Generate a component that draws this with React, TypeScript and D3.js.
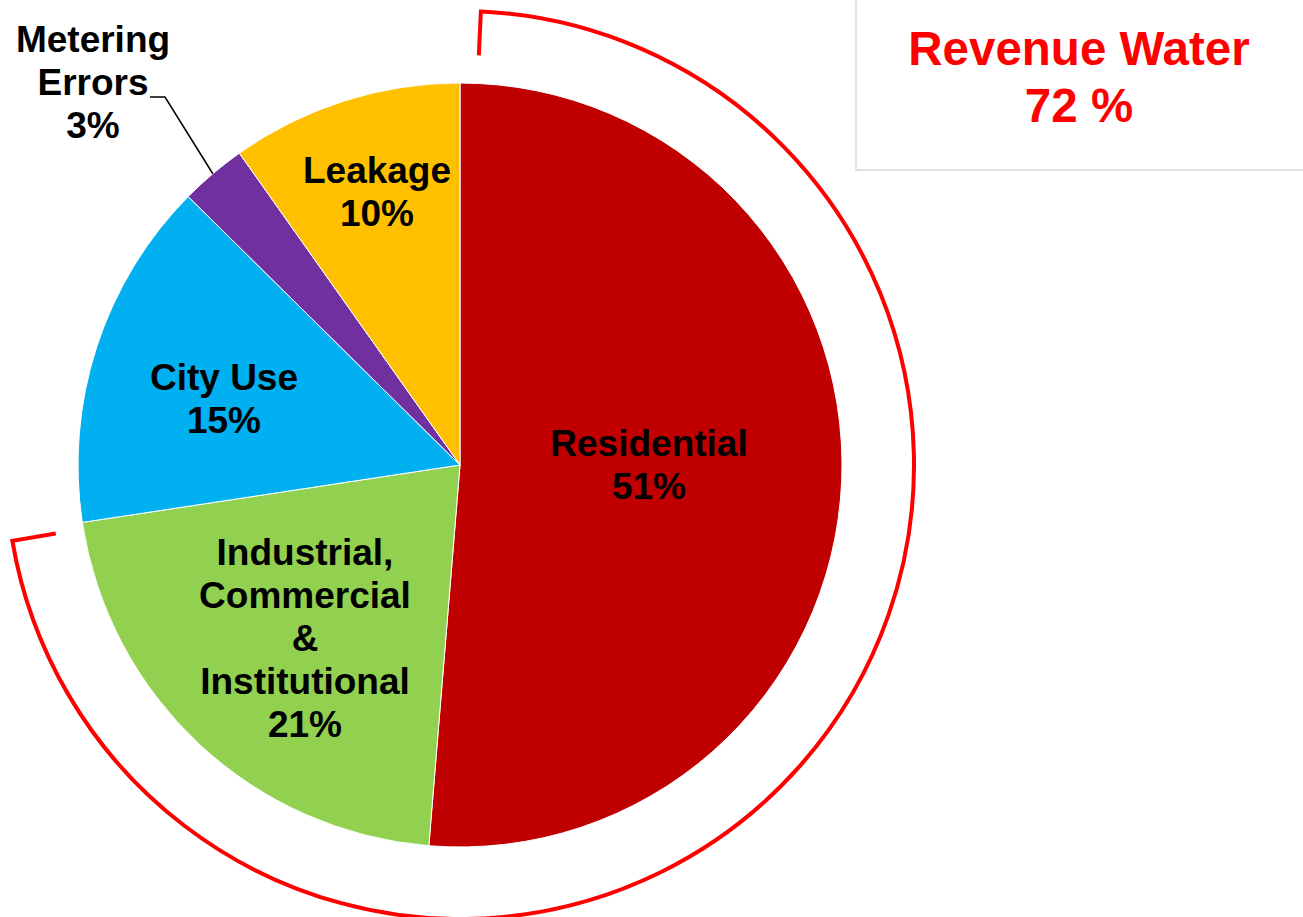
import React from "react";
import * as d3 from "d3";

const categories = ["Residential", "Industrial, Commercial & Institutional", "City Use", "Metering Errors", "Leakage"];
const values = [51.3, 21.3, 14.8, 2.8, 9.8];
const labels = ["51%", "21%", "15%", "3%", "10%"];
const colors = ["#C00000", "#92D050", "#00B0F0", "#7030A0", "#FFC000"];
const revenueTitle = "Revenue Water";
const revenueValue = "72 %";

const W = 1303, H = 917;
const cx = 460, cy = 465, R = 382;
const arcR = 454, tickR = 410;
const FONT = "'Liberation Sans', Arial, Helvetica, sans-serif";

// label layouts: lines and anchor (centre x, first baseline y)
const labelLines: string[][] = [
  ["Residential"],
  ["Industrial,", "Commercial", "&", "Institutional"],
  ["City Use"],
  ["Metering", "Errors"],
  ["Leakage"],
];
const labelPos: [number, number][] = [
  [649, 456],
  [305, 565],
  [224, 390],
  [93, 52],
  [377, 183],
];
const LH = 43;

export default function App() {
  const pie = d3.pie<number>().sort(null).value((d) => d).startAngle(0).endAngle(2 * Math.PI);
  const arcs = pie(values);
  const arcGen = d3.arc<d3.PieArcDatum<number>>().innerRadius(0).outerRadius(R);

  // revenue water bracket: residential + industrial
  const a0 = arcs[0].startAngle + 0.046;
  const a1 = arcs[1].endAngle - 0.017;
  const pt = (a: number, r: number): [number, number] => [cx + r * Math.sin(a), cy - r * Math.cos(a)];
  const p = d3.path();
  const s0 = pt(a0, tickR);
  const s1 = pt(a0, arcR);
  p.moveTo(s0[0], s0[1]);
  p.lineTo(s1[0], s1[1]);
  p.arc(cx, cy, arcR, a0 - Math.PI / 2, a1 - Math.PI / 2, false);
  const e1 = pt(a1, tickR);
  p.lineTo(e1[0], e1[1]);

  // leader for metering errors
  const m = arcs[3];
  const mid = (m.startAngle + m.endAngle) / 2;
  const lp = pt(mid, R);
  const leader = `M${lp[0]},${lp[1]}L165,97L150,97`;

  return (
    <svg width={W} height={H} style={{ position: "absolute", left: 0, top: 0, display: "block" }} fontFamily={FONT}>
      <rect x={0} y={0} width={W} height={H} fill="#fff" />
      <g transform={`translate(${cx},${cy})`}>
        {arcs.map((a, i) => (
          <path key={i} d={arcGen(a) || ""} fill={colors[i]} stroke="#fff" strokeWidth={1} />
        ))}
      </g>
      <path d={leader} fill="none" stroke="#000" strokeWidth={1.5} />
      <path d={p.toString()} fill="none" stroke="#FF0000" strokeWidth={4} strokeLinejoin="miter" />
      {labelLines.map((lines, i) => {
        const [x, y] = labelPos[i];
        const all = [...lines, labels[i]];
        return (
          <text key={i} x={x} y={y} textAnchor="middle" fontSize={37} fontWeight="bold" fill="#000">
            {all.map((t, j) => (
              <tspan key={j} x={x} y={y + j * LH}>{t}</tspan>
            ))}
          </text>
        );
      })}
      <rect x={856} y={-5} width={460} height={175} fill="none" stroke="#D9D9D9" strokeWidth={1.5} />
      <text x={1079} y={65} textAnchor="middle" fontSize={47.5} fontWeight="bold" fill="#FF0000">{revenueTitle}</text>
      <text x={1079} y={122} textAnchor="middle" fontSize={47.5} fontWeight="bold" fill="#FF0000">{revenueValue}</text>
    </svg>
  );
}
